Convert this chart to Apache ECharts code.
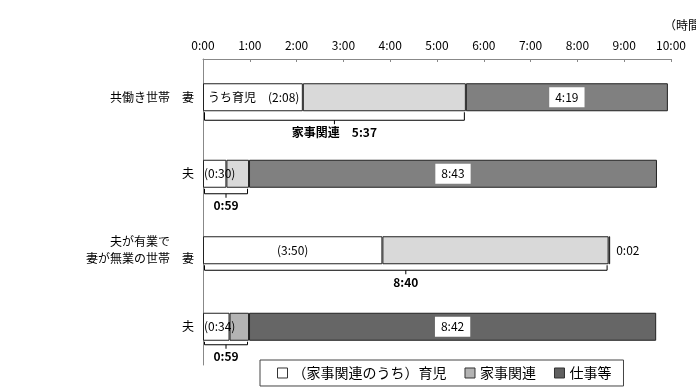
<!DOCTYPE html>
<html>
<head>
<meta charset="utf-8">
<script src="https://cdn.jsdelivr.net/npm/echarts@6/dist/echarts.min.js"></script>
<style>
  html, body { margin: 0; padding: 0; background: #fff; }
  #chart { width: 696px; height: 390px; }
</style>
</head>
<body>
<div id="chart"></div>
<script>
// 値はすべて分単位
const categories = ['共働き世帯　妻', '夫', '夫が有業で　　\n妻が無業の世帯　妻', '夫'];
const childcare = [128, 30, 230, 34];        // うち育児
const houseworkTotal = [337, 59, 520, 59];   // 家事関連（合計）
const work = [259, 523, 2, 522];             // 仕事等
const tickLabels = ['0:00', '1:00', '2:00', '3:00', '4:00', '5:00', '6:00', '7:00', '8:00', '9:00', '10:00'];

const FONT = '"Noto Sans CJK JP", "Noto Sans", sans-serif';

const fmt = m => Math.floor(m / 60) + ':' + String(m % 60).padStart(2, '0');

const lightColors = ['#d9d9d9', '#d9d9d9', '#d9d9d9', '#b3b3b3'];
const darkColors = ['#808080', '#808080', '#808080', '#666666'];

// 白い部分（育児）のラベル
const childLabels = [
  { show: true, position: 'insideLeft', distance: 5, formatter: 'うち育児　(' + fmt(childcare[0]) + ')' },
  { show: true, position: 'insideLeft', distance: 1, formatter: '(' + fmt(childcare[1]) + ')' },
  { show: true, position: 'inside', formatter: '(' + fmt(childcare[2]) + ')' },
  { show: true, position: 'insideLeft', distance: 1, formatter: '(' + fmt(childcare[3]) + ')' }
];

const childData = childcare.map((v, i) => ({ value: v, label: childLabels[i] }));
const restData = houseworkTotal.map((v, i) => ({
  value: v - childcare[i],
  itemStyle: { color: lightColors[i] }
}));
const workData = work.map((v, i) => ({
  value: v,
  itemStyle: { color: darkColors[i] },
  label: v < 30
    ? { show: true, position: 'right', distance: 6, backgroundColor: 'transparent', padding: 0 }
    : { show: true, position: 'inside' }
}));
const bracketData = houseworkTotal.map((v, i) => [i, v, i === 0 ? '家事関連　' + fmt(v) : fmt(v)]);
const bracketDepth = [8, 5, 5, 3];

const barBase = {
  type: 'bar',
  stack: 'total',
  barWidth: 28,
  itemStyle: { borderColor: '#222', borderWidth: 1 }
};

const chart = echarts.init(document.getElementById('chart'));

chart.setOption({
  animation: false,
  textStyle: { fontFamily: FONT },
  grid: { left: 203, right: 25, top: 59, bottom: 25 },
  graphic: [{
    type: 'text', left: 664, top: 19,
    style: { text: '（時間）', font: '12px ' + FONT, fill: '#000' }
  }],
  xAxis: {
    type: 'value',
    position: 'top',
    min: 0,
    max: 600,
    interval: 60,
    splitLine: { show: false },
    axisLine: { show: true, lineStyle: { color: '#888' } },
    axisTick: { show: true, inside: true, length: 3, lineStyle: { color: '#888' } },
    axisLabel: {
      color: '#000', fontSize: 12, margin: 8,
      formatter: v => tickLabels[Math.round(v / 60)]
    }
  },
  yAxis: {
    type: 'category',
    inverse: true,
    data: categories,
    axisLine: { show: true, lineStyle: { color: '#888' } },
    axisTick: { show: false },
    axisLabel: { color: '#000', fontSize: 12, margin: 9, lineHeight: 17, align: 'right' }
  },
  legend: {
    left: 260,
    top: 360,
    borderColor: '#444',
    borderWidth: 1,
    padding: [6, 12, 6, 17],
    itemGap: 18,
    itemWidth: 10,
    itemHeight: 10,
    textStyle: { fontSize: 14, color: '#000', fontFamily: FONT },
    data: [
      { name: '（家事関連のうち）育児', icon: 'rect', itemStyle: { color: '#fff', borderColor: '#333', borderWidth: 1 } },
      { name: '家事関連', icon: 'rect', itemStyle: { color: '#b3b3b3', borderColor: '#333', borderWidth: 1 } },
      { name: '仕事等', icon: 'rect', itemStyle: { color: '#606060', borderColor: '#333', borderWidth: 1 } }
    ]
  },
  series: [
    Object.assign({}, barBase, {
      name: '（家事関連のうち）育児',
      color: '#ffffff',
      label: { color: '#000', fontSize: 12 },
      data: childData
    }),
    Object.assign({}, barBase, {
      name: '家事関連',
      color: '#d9d9d9',
      data: restData
    }),
    Object.assign({}, barBase, {
      name: '仕事等',
      color: '#808080',
      label: {
        color: '#000', fontSize: 12,
        backgroundColor: '#fff', padding: [4, 6],
        formatter: p => fmt(p.value)
      },
      data: workData
    }),
    {
      type: 'custom',
      name: 'bracket',
      clip: false,
      silent: true,
      encode: { x: 1, y: 0 },
      data: bracketData,
      renderItem: (params, api) => {
        const cat = api.value(0);
        const end = api.value(1);
        const text = bracketData[params.dataIndex][2];
        const p0 = api.coord([0, cat]);
        const p1 = api.coord([end, cat]);
        const yb = p0[1] + 15;
        const yh = yb + bracketDepth[params.dataIndex];
        const x0 = p0[0] + 1.5;
        const x1 = p1[0] - 1.5;
        const mid = (x0 + x1) / 2;
        return {
          type: 'group',
          children: [
            {
              type: 'polyline',
              shape: { points: [[x0, yb], [x0, yh], [x1, yh], [x1, yb]] },
              style: { stroke: '#000', fill: null, lineWidth: 1 }
            },
            {
              type: 'line',
              shape: { x1: mid, y1: yh, x2: mid, y2: yh + 4 },
              style: { stroke: '#000', lineWidth: 1 }
            },
            {
              type: 'text',
              style: {
                text: text, x: mid, y: yh + 6,
                align: 'center', verticalAlign: 'top',
                textAlign: 'center', textVerticalAlign: 'top',
                font: 'bold 12px ' + FONT, fill: '#000'
              }
            }
          ]
        };
      }
    }
  ]
});
</script>
</body>
</html>
